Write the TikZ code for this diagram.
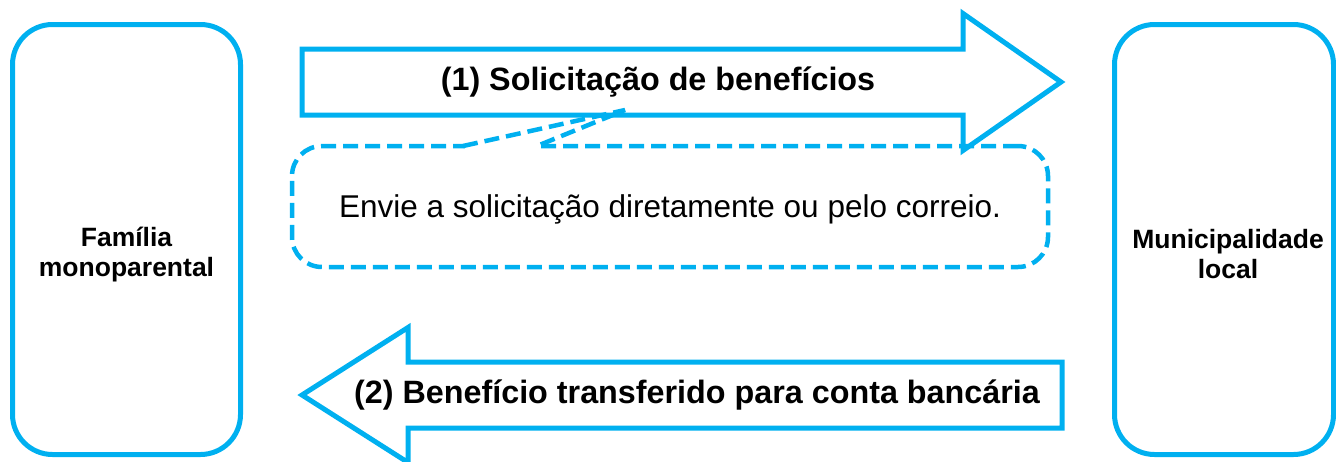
\documentclass[tikz,border=0pt]{standalone}
\usepackage{fontspec}
\setmainfont{Liberation Sans}
\usepackage{tikz}
\usetikzlibrary{positioning}
\definecolor{skyblue}{HTML}{00B0F0}

\begin{document}
\begin{tikzpicture}[
    x=1pt, y=-1pt,
    party/.style={
		rectangle,
		rounded corners=40pt,
		draw=skyblue,
		line width=5pt,
		minimum height=430pt
	},
	partytext/.style={
		align=center,
		font=\bfseries\fontsize{26.5}{30}\selectfont
	},
	flow/.style={
		draw=skyblue,
		line width=5pt,
		fill=white
	},
	flowlabel/.style={
		font=\bfseries\fontsize{32.3}{38}\selectfont
	},
	note/.style={
		rectangle,
		rounded corners=30pt,
		draw=skyblue,
		line width=4.5pt,
		dash pattern=on 15pt off 7pt,
		outer sep=0pt,
		text depth=0pt,
		minimum width=756pt,
		minimum height=121pt,
		font=\fontsize{31.5}{36}\selectfont
	},
	pointer/.style={
		draw=skyblue,
		line width=4.5pt,
		dash pattern=on 15pt off 7pt
	}
  ]
  \useasboundingbox (0,0) rectangle (1336,461);

    % We start by placing the two parties
  \node [party, minimum width=228pt] (family) at (126.5,239.5) {};
  \node [partytext] (familylabel) at ([yshift=-15pt]family.center) {Família\\monoparental};

  \node [party, minimum width=219pt] (council) at (1224,239.5) {};
  \node [partytext] (councillabel) at ([xshift=4pt,yshift=-15pt]council.center) {Municipalidade\\local};

    % the two block arrows
  \draw [flow] (302,49) -- (963,49) -- (963,13.5) -- (1061,82) -- (963,150.5) -- (963,115) -- (302,115) -- cycle;
  \node [flowlabel] (request) at (658,82) {(1) Solicitação de benefícios};

  \draw [flow] (1062,362) -- (408,362) -- (408,327.5) -- (302,395) -- (408,462.5) -- (408,428) -- (1062,428) -- cycle;
  \node [flowlabel] (payment) at (697,395) {(2) Benefício transferido para conta bancária};

    % callout under the first arrow
  \node [note] (note) at (670,206.5) {Envie a solicitação diretamente ou pelo correio.};
  \coordinate (tip) at (625,110);
  \fill [white] ([xshift=-205pt,yshift=3pt]note.north) rectangle ([xshift=-135pt,yshift=-3pt]note.north);
  \draw [pointer] ([xshift=-207pt]note.north) -- (tip) -- ([xshift=-133pt]note.north);

\end{tikzpicture}
\end{document}
